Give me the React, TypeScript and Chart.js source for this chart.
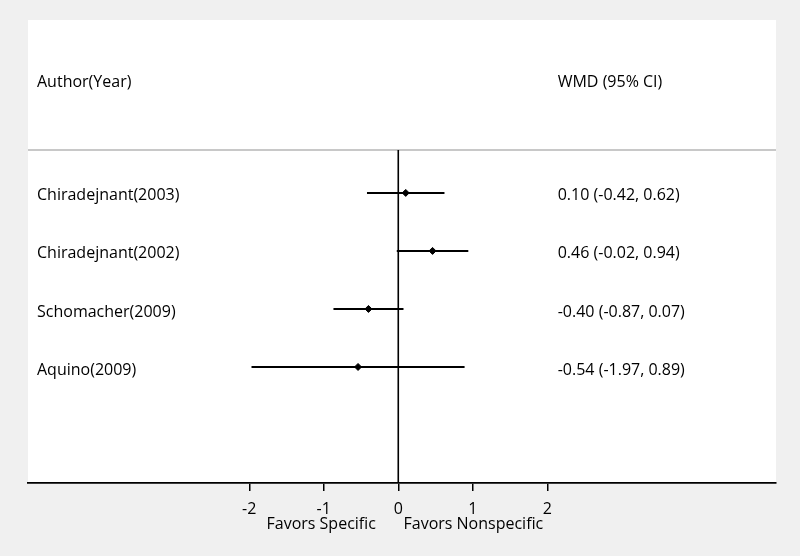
import React, { useEffect, useRef } from "react";
import { Chart, registerables } from "chart.js";

Chart.register(...registerables);

const studies = ["Chiradejnant(2003)", "Chiradejnant(2002)", "Schomacher(2009)", "Aquino(2009)"];
const wmd = [0.1, 0.46, -0.4, -0.54];
const lower = [-0.42, -0.02, -0.87, -1.97];
const upper = [0.62, 0.94, 0.07, 0.89];
const ciLabels = ["0.10 (-0.42, 0.62)", "0.46 (-0.02, 0.94)", "-0.40 (-0.87, 0.07)", "-0.54 (-1.97, 0.89)"];
const xTicks = [-2, -1, 0, 1, 2];
const headerLeft = "Author(Year)";
const headerRight = "WMD (95% CI)";
const favorLeft = "Favors Specific";
const favorRight = "Favors Nonspecific";

const FONT = "'Open Sans', sans-serif";

export default function App() {
  const ref = useRef<HTMLCanvasElement | null>(null);

  useEffect(() => {
    document.body.style.margin = "0";
    const canvas = ref.current!;
    const rows = studies.map((_, i) => i + 1);
    const HEADER_Y = -0.9;
    const SEP_Y = 0.26;

    const ciSets = studies.map((s, i) => ({
      type: "line" as const,
      label: s,
      data: [
        { x: lower[i], y: rows[i] },
        { x: upper[i], y: rows[i] },
      ],
      borderColor: "#000",
      borderWidth: 2,
      pointRadius: 0,
      order: 2,
    }));

    const bgPlugin = {
      id: "bg",
      beforeDraw(chart: any) {
        const { ctx, chartArea: a } = chart;
        ctx.save();
        ctx.fillStyle = "#f0f0f0";
        ctx.fillRect(0, 0, chart.width, chart.height);
        ctx.fillStyle = "#ffffff";
        ctx.fillRect(a.left, a.top, a.right - a.left, a.bottom - a.top);
        const ys = chart.scales.y.getPixelForValue(SEP_Y);
        ctx.strokeStyle = "#c8c8c8";
        ctx.lineWidth = 2;
        ctx.beginPath();
        ctx.moveTo(a.left, ys);
        ctx.lineTo(a.right, ys);
        ctx.stroke();
        ctx.restore();
      },
      afterDraw(chart: any) {
        const { ctx, chartArea: a } = chart;
        const x = chart.scales.x;
        const y = chart.scales.y;
        ctx.save();
        ctx.fillStyle = "#000";
        ctx.font = `16px ${FONT}`;
        ctx.textBaseline = "middle";
        ctx.textAlign = "left";
        const lx = a.left + 9;
        const rx = x.getPixelForValue(2.14);
        ctx.fillText(headerLeft, lx, y.getPixelForValue(HEADER_Y));
        ctx.fillText(headerRight, rx, y.getPixelForValue(HEADER_Y));
        rows.forEach((r, i) => {
          const py = y.getPixelForValue(r) + 3;
          ctx.fillText(studies[i], lx, py);
          ctx.fillText(ciLabels[i], rx, py);
        });
        ctx.textAlign = "right";
        ctx.fillText(favorLeft, x.getPixelForValue(-0.3), a.bottom + 41);
        ctx.textAlign = "left";
        ctx.fillText(favorRight, x.getPixelForValue(0.07), a.bottom + 41);
        ctx.restore();
      },
    };

    const chart = new Chart(canvas, {
      data: {
        datasets: [
          ...ciSets,
          {
            type: "line" as const,
            label: "null",
            data: [
              { x: 0, y: SEP_Y },
              { x: 0, y: 6.0 },
            ],
            borderColor: "#000",
            borderWidth: 1.6,
            pointRadius: 0,
            order: 3,
          },
          {
            type: "scatter" as const,
            label: "WMD",
            data: rows.map((r, i) => ({ x: wmd[i], y: r })),
            backgroundColor: "#000",
            borderColor: "#000",
            pointStyle: "rectRot",
            pointRadius: 3.5,
            order: 1,
          },
        ],
      },
      options: {
        responsive: false,
        animation: false,
        events: [],
        layout: { padding: { left: 28, right: 24, top: 20, bottom: 0 } },
        plugins: { legend: { display: false }, tooltip: { enabled: false } },
        scales: {
          x: {
            type: "linear",
            min: -4.97,
            max: 5.07,
            afterBuildTicks: (s: any) => {
              s.ticks = xTicks.map((v) => ({ value: v }));
            },
            afterFit: (s: any) => {
              s.height = 73;
            },
            ticks: {
              color: "#000",
              font: { family: FONT, size: 16 },
              padding: 9,
              callback: (v: any) => String(v),
            },
            grid: {
              drawOnChartArea: false,
              drawTicks: true,
              tickLength: 8,
              color: "#000",
              lineWidth: 1.5,
            },
            border: { display: true, color: "#000", width: 1.8 },
          },
          y: {
            type: "linear",
            display: false,
            min: -1.98,
            max: 6.0,
            reverse: true,
          },
        },
      },
      plugins: [bgPlugin],
    } as any);

    return () => chart.destroy();
  }, []);

  return <canvas ref={ref} width={800} height={556} style={{ display: "block" }} />;
}
